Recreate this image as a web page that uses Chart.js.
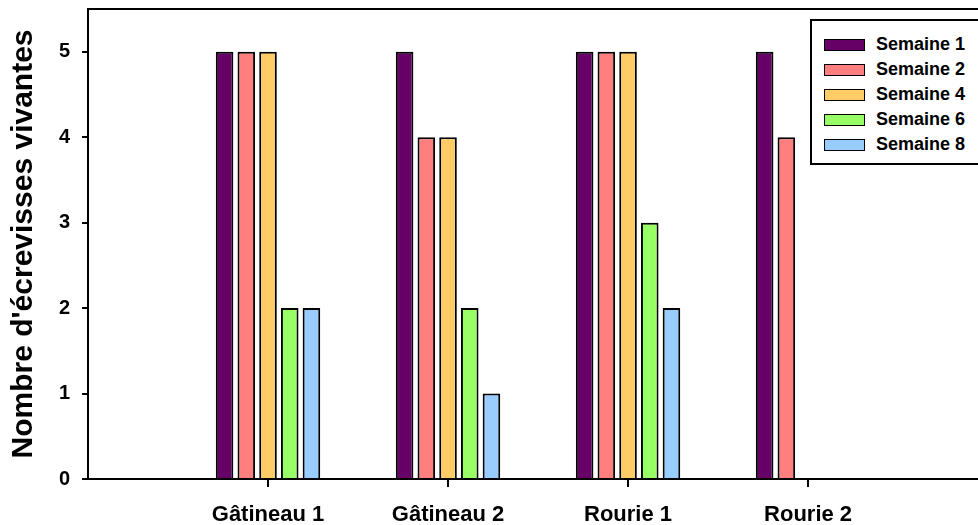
<!DOCTYPE html>
<html>
<head>
<meta charset="utf-8">
<script src="https://cdn.jsdelivr.net/npm/chart.js@4/dist/chart.umd.min.js"></script>
<style>
  body { margin: 0; background: #fff; overflow: hidden; }
  #wrap { position: relative; width: 978px; height: 525px; }
  #legende {
    position: absolute; left: 810px; top: 19px; width: 180px; height: 131px;
    border: 2px solid #000; box-sizing: content-box; background: #fff;
    padding-top: 11px; font: bold 18px "Liberation Sans", Arial, sans-serif;
  }
  .item { height: 25px; display: flex; align-items: center; padding-left: 12px; }
  .item span.box { width: 39px; height: 10px; border: 1.5px solid #000; margin-right: 11px; }
</style>
</head>
<body>
<div id="wrap">
  <canvas id="graphique" width="978" height="525"></canvas>
  <div id="legende"></div>
</div>
<script>
// Données
const sites = ['Gâtineau 1', 'Gâtineau 2', 'Rourie 1', 'Rourie 2'];
const semaines = ['Semaine 1', 'Semaine 2', 'Semaine 4', 'Semaine 6', 'Semaine 8'];
const couleurs = ['#660066', '#ff7f7f', '#ffcc66', '#99ff66', '#99ccff'];
const semaine1 = [5, 5, 5, 5];
const semaine2 = [5, 4, 5, 4];
const semaine4 = [5, 4, 5, null];
const semaine6 = [2, 2, 3, null];
const semaine8 = [2, 1, 2, null];
const yTicks = [0, 1, 2, 3, 4, 5];

const series = [semaine1, semaine2, semaine4, semaine6, semaine8];
const police = '"Liberation Sans", Arial, sans-serif';

// trait du haut du cadre
const cadreHaut = {
    id: 'cadreHaut',
    afterDraw(chart) {
        const {ctx, chartArea} = chart;
        ctx.save();
        ctx.strokeStyle = '#000';
        ctx.lineWidth = 2;
        ctx.beginPath();
        ctx.moveTo(chartArea.left, chartArea.top);
        ctx.lineTo(chartArea.right, chartArea.top);
        ctx.stroke();
        ctx.restore();
    }
};

const graphique = new Chart(document.getElementById('graphique'), {
    type: 'bar',
    data: {
        datasets: series.map((vals, i) => ({
            label: semaines[i],
            data: vals.map((v, j) => ({x: j + 1, y: v})),
            backgroundColor: couleurs[i],
            borderColor: '#000',
            borderWidth: 2,
            categoryPercentage: 0.603,
            barPercentage: 0.81
        }))
    },
    options: {
        responsive: false,
        animation: false,
        layout: {padding: {top: 9, right: 0, left: 0, bottom: 0}},
        plugins: {legend: {display: false}, tooltip: {enabled: false}},
        scales: {
            x: {
                type: 'linear',
                min: 0,
                max: 4.944,
                offset: false,
                afterBuildTicks: s => { s.ticks = [1, 2, 3, 4].map(v => ({value: v})); },
                afterFit: s => { s.height = 46; s.paddingLeft = 0; s.paddingRight = 0; },
                ticks: {
                    callback: v => sites[v - 1],
                    color: '#000',
                    font: {family: police, size: 22, weight: 'bold'},
                    padding: 15,
                    maxRotation: 0
                },
                grid: {offset: false, drawOnChartArea: false, tickLength: 8, color: '#000', lineWidth: 2},
                border: {color: '#000', width: 2}
            },
            y: {
                min: 0,
                max: 5.5,
                afterBuildTicks: s => { s.ticks = yTicks.map(v => ({value: v})); },
                afterFit: s => { s.width = 88; s.paddingTop = 0; s.paddingBottom = 0; },
                ticks: {
                    color: '#000',
                    font: {family: police, size: 20, weight: 'bold'},
                    padding: 12
                },
                grid: {drawOnChartArea: false, tickLength: 6, color: '#000', lineWidth: 2},
                border: {color: '#000', width: 2},
                title: {
                    display: true,
                    text: "Nombre d'écrevisses vivantes",
                    color: '#000',
                    font: {family: police, size: 30, weight: 'bold'},
                    padding: {top: 6, bottom: 0}
                }
            }
        }
    },
    plugins: [cadreHaut]
});

// légende en HTML
const legende = document.getElementById('legende');
graphique.data.datasets.forEach(ds => {
    const item = document.createElement('div');
    item.className = 'item';
    item.innerHTML = '<span class="box" style="background:' + ds.backgroundColor + '"></span>' + ds.label;
    legende.appendChild(item);
});
</script>
</body>
</html>
